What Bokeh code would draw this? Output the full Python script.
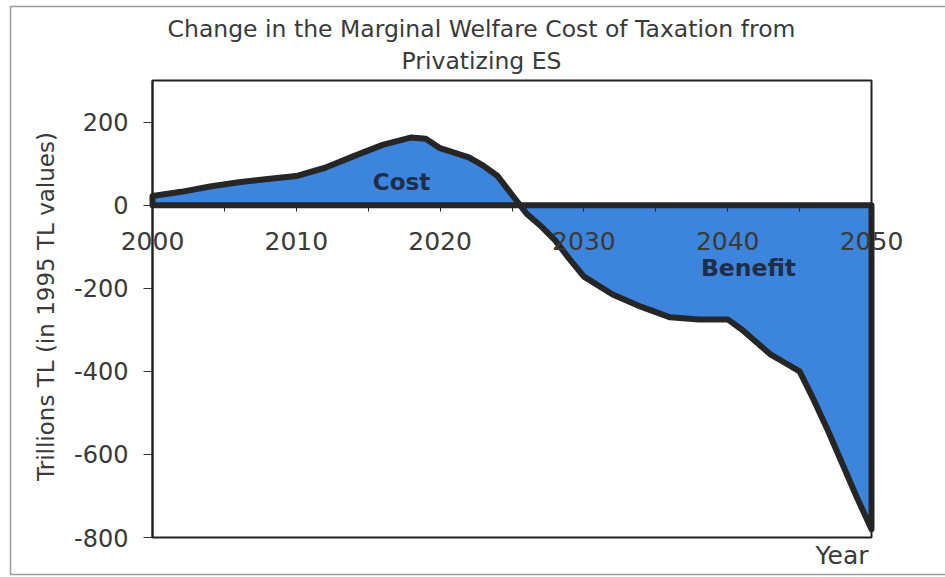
import math
from bokeh.plotting import figure
from bokeh.models import Range1d, LinearAxis, Label, FixedTicker, BoxAnnotation, PrintfTickFormatter
from bokeh.embed import file_html
from bokeh.resources import INLINE

# Data
years = [2000, 2002, 2004, 2006, 2008, 2010, 2012, 2014, 2016, 2018, 2019, 2020,
         2022, 2023, 2024, 2025, 2026, 2027, 2028, 2029, 2030, 2032, 2034, 2036,
         2038, 2040, 2041, 2042, 2043, 2044, 2045, 2046, 2047, 2048, 2049, 2050]
change = [22, 32, 45, 55, 63, 70, 90, 118, 145, 163, 160, 137,
          115, 95, 70, 25, -20, -50, -85, -130, -172, -215, -245, -270,
          -275, -275, -300, -330, -360, -380, -400, -470, -545, -625, -705, -780]
x_ticks = [2000, 2010, 2020, 2030, 2040, 2050]
x_minor = [2005, 2015, 2025, 2035, 2045]
y_ticks = [-800, -600, -400, -200, 0, 200]
title_lines = ["Change in the Marginal Welfare Cost of Taxation from", "Privatizing ES"]

W, H = 945, 577
X0, X1, Y0, Y1 = 2000, 2050, -800, 300
# pixel placement of the plotting box within the canvas
FL, FR, FT, FB = 152, 871, 80, 537
sx = (FR - FL) / (X1 - X0)
sy = (FB - FT) / (Y1 - Y0)
xs_ = X0 - FL / sx
xe_ = xs_ + W / sx
ye_ = Y1 + FT / sy
ys_ = ye_ - H / sy


def px2x(px):
    return xs_ + px / sx


def py2y(py):
    return ye_ - py / sy


FONT = "DejaVu Sans"
TXT = "#3a3a3a"

p = figure(width=W, height=H, output_backend="svg", toolbar_location=None,
           x_range=Range1d(xs_, xe_), y_range=Range1d(ys_, ye_),
           x_axis_location=None, y_axis_location=None, min_border=0)
p.grid.visible = False
p.outline_line_color = None
p.background_fill_color = "white"
p.border_fill_color = "white"

# area
pxs = [X0] + years + [X1]
pys = [0] + change + [0]
p.patch(pxs, pys, fill_color="#3d84dc", line_color="#262626", line_width=6,
        line_join="round")

# y axis
ya = LinearAxis(fixed_location=X0, bounds=(Y0, Y1))
ya.ticker = FixedTicker(ticks=y_ticks)
ya.formatter = PrintfTickFormatter(format="%d")
ya.major_label_text_font = FONT
ya.major_label_text_font_size = "24px"
ya.major_label_text_color = TXT
ya.axis_line_color = "#333333"
ya.axis_line_width = 2
ya.major_tick_line_color = "#333333"
ya.major_tick_out = 9
ya.major_tick_in = 0
ya.minor_tick_line_color = None
ya.major_label_standoff = 15
p.add_layout(ya, "left")

# x axis at zero
xa = LinearAxis(fixed_location=0, bounds=(X0, X1))
xa.ticker = FixedTicker(ticks=x_ticks, minor_ticks=x_minor)
xa.axis_line_color = "#262626"
xa.axis_line_width = 2
xa.major_tick_line_color = "#262626"
xa.minor_tick_line_color = "#262626"
xa.major_tick_out = 6
xa.major_tick_in = 0
xa.minor_tick_out = 6
xa.minor_tick_in = 0
xa.major_label_text_font = FONT
xa.major_label_text_font_size = "25px"
xa.major_label_text_color = TXT
xa.major_label_standoff = 21
p.add_layout(xa, "below")

# plotting box outline
p.add_layout(BoxAnnotation(left=X0, right=X1, top=Y1, bottom=Y0, fill_alpha=0,
                           line_color="#222222", line_width=2, line_alpha=1))
# outer chart border
p.add_layout(BoxAnnotation(left=px2x(10), right=px2x(990), top=py2y(6), bottom=py2y(574),
                           fill_alpha=0, line_color="#9c9c9c", line_width=1.5, line_alpha=1))

# annotations
p.add_layout(Label(x=px2x(401), y=py2y(181), text="Cost", text_font=FONT, text_font_size="23px",
                   text_font_style="bold", text_color="#1e2d4a", text_align="center",
                   text_baseline="middle"))
p.add_layout(Label(x=px2x(748), y=py2y(267), text="Benefit", text_font=FONT, text_font_size="23.5px",
                   text_font_style="bold", text_color="#1e2d4a", text_align="center",
                   text_baseline="middle"))
p.add_layout(Label(x=px2x(868), y=py2y(555), text="Year", text_font=FONT,
                   text_font_size="25px", text_color=TXT, text_align="right",
                   text_baseline="middle"))
p.add_layout(Label(x=px2x(45), y=py2y(306), text="Trillions TL (in 1995 TL values)",
                   angle=math.pi / 2, text_font=FONT, text_font_size="23px",
                   text_color=TXT, text_align="center", text_baseline="middle"))
p.add_layout(Label(x=px2x(481), y=py2y(28), text=title_lines[0], text_font=FONT,
                   text_font_size="23.5px", text_color=TXT, text_align="center",
                   text_baseline="middle"))
p.add_layout(Label(x=px2x(481), y=py2y(60), text=title_lines[1], text_font=FONT,
                   text_font_size="23.5px", text_color=TXT, text_align="center",
                   text_baseline="middle"))

open("out.html", "w").write(file_html(p, INLINE))
